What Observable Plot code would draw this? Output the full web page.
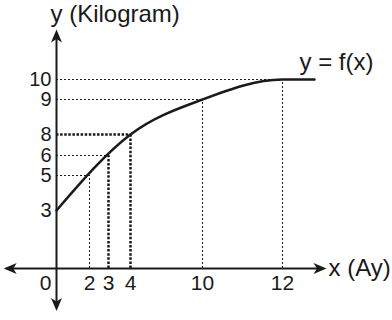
<!DOCTYPE html>
<html>
<head>
<meta charset="utf-8">
<script src="https://cdn.jsdelivr.net/npm/d3@7"></script>
<script src="https://cdn.jsdelivr.net/npm/@observablehq/plot@0.6"></script>
<style>
  html, body { margin: 0; padding: 0; background: #fff; }
  #chart { width: 392px; height: 320px; }
</style>
</head>
<body>
<div id="chart"></div>
<script>
// Tick values (schematic, unevenly spaced axes)
const xTicks = [0, 2, 3, 4, 10, 12];
const yTicks = [0, 3, 5, 6, 8, 9, 10];
const yTickLabels = [3, 5, 6, 8, 9, 10];
const xTickLabels = [2, 3, 4, 10, 12];

// Curve y = f(x)
const curveX = [0, 4, 10, 12, 12.8];
const curveY = [3, 8, 9, 10, 10];

// Guide (dotted) lines from axes to curve points
const guideX = [2, 3, 4, 10, 12];
const guideY = [5, 6, 8, 9, 10];
const guideVBold = [false, true, true, false, false];
const guideHBold = [false, false, true, false, false];

// Axis extents (data units)
const xAxisExtent = [-3.2, 13.1];
const yAxisExtent = [-2.2, 12.5];

const curve = curveX.map((x, i) => ({x, y: curveY[i]}));
const guides = guideX.map((x, i) => ({x, y: guideY[i], vb: guideVBold[i], hb: guideHBold[i]}));

const ink = "#1a1a1a";
const font = "Liberation Sans";
const arrowHead = {
  draw(context) {
    context.moveTo(0, 0);
    context.lineTo(5.5, 13);
    context.lineTo(0, 9.5);
    context.lineTo(-5.5, 13);
    context.closePath();
  }
};
const heads = [
  {x: xAxisExtent[0], y: 0, r: 270},
  {x: xAxisExtent[1], y: 0, r: 90},
  {x: 0, y: yAxisExtent[0], r: 180},
  {x: 0, y: yAxisExtent[1], r: 0}
];

const thin = {stroke: ink, strokeWidth: 1, strokeDasharray: "2,2"};
const bold = {stroke: ink, strokeWidth: 2.5, strokeDasharray: "2.5,1.6"};

const plot = Plot.plot({
  width: 392,
  height: 320,
  margin: 0,
  style: {fontFamily: font, background: "#fff", color: ink},
  x: {type: "linear", domain: xTicks, range: [56, 89, 108, 130, 202, 282], axis: null},
  y: {type: "linear", domain: yTicks, range: [268, 210, 175, 155, 134, 99, 79], axis: null},
  marks: [
    // dotted guides
    Plot.ruleX(guides.filter(d => !d.vb), {x: "x", y1: 0, y2: "y", ...thin}),
    Plot.ruleX(guides.filter(d => d.vb), {x: "x", y1: 0, y2: "y", ...bold}),
    Plot.ruleY(guides.filter(d => !d.hb), {y: "y", x1: 0, x2: "x", ...thin}),
    Plot.ruleY(guides.filter(d => d.hb), {y: "y", x1: 0, x2: "x", ...bold}),
    // axes with arrowheads
    Plot.ruleY([0], {x1: xAxisExtent[0] + 0.2, x2: xAxisExtent[1] - 0.1, stroke: ink, strokeWidth: 2}),
    Plot.ruleX([0], {y1: yAxisExtent[0] + 0.3, y2: yAxisExtent[1] - 0.3, stroke: ink, strokeWidth: 2}),
    Plot.dot(heads, {x: "x", y: "y", rotate: "r", symbol: arrowHead, fill: ink, stroke: "none"}),
    // curve
    Plot.line(curve, {x: "x", y: "y", curve: "monotone-x", stroke: ink, strokeWidth: 2.5}),
    // tick labels
    Plot.text(yTickLabels, {x: 0, y: d => d, text: d => String(d), textAnchor: "end", dx: -5, fontSize: 20, fontFamily: font, fill: ink}),
    Plot.text(xTickLabels, {x: d => d, y: 0, text: d => String(d), dy: 15, fontSize: 21, fontFamily: font, fill: ink}),
    Plot.text([0], {x: 0, y: 0, text: d => String(d), dx: -11, dy: 15, fontSize: 21, fontFamily: font, fill: ink}),
    // axis titles and curve label
    Plot.text(["y (Kilogram)"], {x: 0, y: yAxisExtent[1], text: d => d, textAnchor: "start", dx: -6, dy: -15, fontSize: 24, fontFamily: font, fill: ink}),
    Plot.text(["x (Ay)"], {x: xAxisExtent[1], y: 0, text: d => d, textAnchor: "start", dx: 2, dy: 0, fontSize: 24, fontFamily: font, fill: ink}),
    Plot.text(["y = f(x)"], {x: curveX[curveX.length - 1], y: curveY[curveY.length - 1], text: d => d, textAnchor: "end", dx: 59, dy: -17, fontSize: 24, fontFamily: font, fill: ink})
  ]
});
document.getElementById("chart").appendChild(plot);
</script>
</body>
</html>
